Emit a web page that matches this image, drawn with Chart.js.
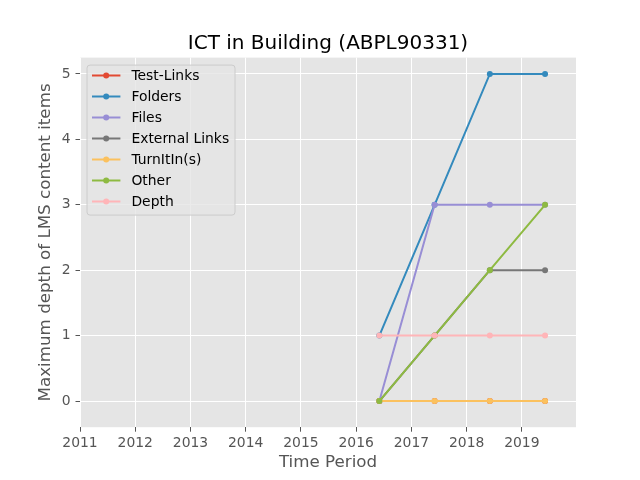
<!DOCTYPE html>
<html>
<head>
<meta charset="utf-8">
<script src="https://cdn.jsdelivr.net/npm/chart.js@4"></script>
<style>
html,body{margin:0;padding:0;background:#fff;}
#wrap{width:640px;height:480px;}
</style>
</head>
<body>
<div id="wrap"><canvas id="c" width="640" height="480"></canvas></div>
<script>
const periods = [2016.42, 2017.42, 2018.42, 2019.42];
const seriesNames = ["Test-Links", "Folders", "Files", "External Links", "TurnItIn(s)", "Other", "Depth"];
const testLinks = [0, 0, 0, 0];
const folders = [1, 3, 5, 5];
const files = [0, 3, 3, 3];
const externalLinks = [0, 1, 2, 2];
const turnItIn = [0, 0, 0, 0];
const other = [0, 1, 2, 3];
const depth = [1, 1, 1, 1];
const xTicks = [2011, 2012, 2013, 2014, 2015, 2016, 2017, 2018, 2019];
const yTicks = [0, 1, 2, 3, 4, 5];

const colors = ["#E24A33", "#348ABD", "#988ED5", "#777777", "#FBC15E", "#8EBA42", "#FFB5B8"];
const allValues = [testLinks, folders, files, externalLinks, turnItIn, other, depth];

const datasets = allValues.map((vals, i) => ({
  label: seriesNames[i],
  data: vals.map((v, j) => ({x: periods[j], y: v})),
  borderColor: colors[i],
  backgroundColor: colors[i],
  borderWidth: 2,
  pointRadius: 3,
  pointBorderWidth: 0,
  pointHoverRadius: 3,
  fill: false,
  tension: 0,
  order: allValues.length - 1 - i
}));

const legendPlugin = {
  id: 'mplLegend',
  afterDraw(chart) {
    const ctx = chart.ctx;
    const ca = chart.chartArea;
    const x0 = ca.left + 7, y0 = ca.top + 7.5, w = 148, h = 150;
    ctx.save();
    ctx.beginPath();
    const r = 3;
    ctx.moveTo(x0 + r, y0);
    ctx.lineTo(x0 + w - r, y0);
    ctx.quadraticCurveTo(x0 + w, y0, x0 + w, y0 + r);
    ctx.lineTo(x0 + w, y0 + h - r);
    ctx.quadraticCurveTo(x0 + w, y0 + h, x0 + w - r, y0 + h);
    ctx.lineTo(x0 + r, y0 + h);
    ctx.quadraticCurveTo(x0, y0 + h, x0, y0 + h - r);
    ctx.lineTo(x0, y0 + r);
    ctx.quadraticCurveTo(x0, y0, x0 + r, y0);
    ctx.closePath();
    ctx.fillStyle = 'rgba(229,229,229,0.8)';
    ctx.fill();
    ctx.strokeStyle = '#CCCCCC';
    ctx.lineWidth = 1;
    ctx.stroke();
    ctx.font = '13.9px "DejaVu Sans"';
    ctx.textBaseline = 'middle';
    ctx.textAlign = 'left';
    chart.data.datasets.forEach((ds, i) => {
      const y = y0 + 10.4 + 21 * i;
      ctx.strokeStyle = ds.borderColor;
      ctx.lineWidth = 2;
      ctx.beginPath();
      ctx.moveTo(x0 + 5, y);
      ctx.lineTo(x0 + 33.4, y);
      ctx.stroke();
      ctx.fillStyle = ds.borderColor;
      ctx.beginPath();
      ctx.arc(x0 + 19.2, y, 3, 0, Math.PI * 2);
      ctx.fill();
      ctx.fillStyle = '#000';
      ctx.fillText(ds.label, x0 + 44.4, y + 0.5);
    });
    ctx.restore();
  }
};

const bgPlugin = {
  id: 'axBg',
  beforeDraw(chart) {
    const ctx = chart.ctx;
    const ca = chart.chartArea;
    ctx.save();
    ctx.fillStyle = '#fff';
    ctx.fillRect(0, 0, chart.width, chart.height);
    ctx.fillStyle = '#E5E5E5';
    ctx.fillRect(ca.left, ca.top, ca.right - ca.left, ca.bottom - ca.top);
    ctx.restore();
  }
};

new Chart(document.getElementById('c'), {
  type: 'line',
  data: {datasets},
  plugins: [bgPlugin, legendPlugin],
  options: {
    responsive: false,
    animation: false,
    events: [],
    layout: {padding: {left: 16, right: 0, top: 0, bottom: 0}},
    plugins: {
      legend: {display: false},
      tooltip: {enabled: false},
      title: {
        display: true,
        text: 'ICT in Building (ABPL90331)',
        color: '#000',
        font: {family: 'DejaVu Sans', size: 20, weight: 'normal'},
        padding: {top: 32, bottom: 1.6}
      }
    },
    scales: {
      x: {
        type: 'linear',
        min: 2011,
        max: 2019.98,
        afterBuildTicks(scale) { scale.ticks = xTicks.map(v => ({value: v})); },
        afterFit(scale) { scale.height = 52.8; },
        ticks: {
          color: '#555555',
          font: {family: 'DejaVu Sans', size: 13.9},
          padding: 3,
          maxRotation: 0,
          autoSkip: false,
          callback: v => String(v)
        },
        grid: {color: '#FFFFFF', lineWidth: 1, tickColor: '#555555', tickLength: 4.5, drawTicks: true},
        border: {display: false},
        title: {
          display: true,
          text: 'Time Period',
          color: '#555555',
          font: {family: 'DejaVu Sans', size: 16.7},
          padding: {top: 0, bottom: 7}
        }
      },
      y: {
        type: 'linear',
        min: -0.4,
        max: 5.25,
        afterBuildTicks(scale) { scale.ticks = yTicks.map(v => ({value: v})); },
        afterFit(scale) { scale.width = 64; },
        ticks: {
          color: '#555555',
          font: {family: 'DejaVu Sans', size: 13.9},
          padding: 5,
          autoSkip: false,
          callback: v => String(v)
        },
        grid: {color: '#FFFFFF', lineWidth: 1, tickColor: '#555555', tickLength: 4.5, drawTicks: true},
        border: {display: false},
        title: {
          display: true,
          text: 'Maximum depth of LMS content items',
          color: '#555555',
          font: {family: 'DejaVu Sans', size: 16.7},
          padding: {top: 20, bottom: 0}
        }
      },
      spacer: {
        type: 'linear',
        position: 'right',
        display: true,
        afterFit(scale) { scale.width = 64; },
        ticks: {display: false},
        grid: {display: false, drawTicks: false},
        border: {display: false},
        title: {display: false}
      }
    }
  }
});
</script>
</body>
</html>
